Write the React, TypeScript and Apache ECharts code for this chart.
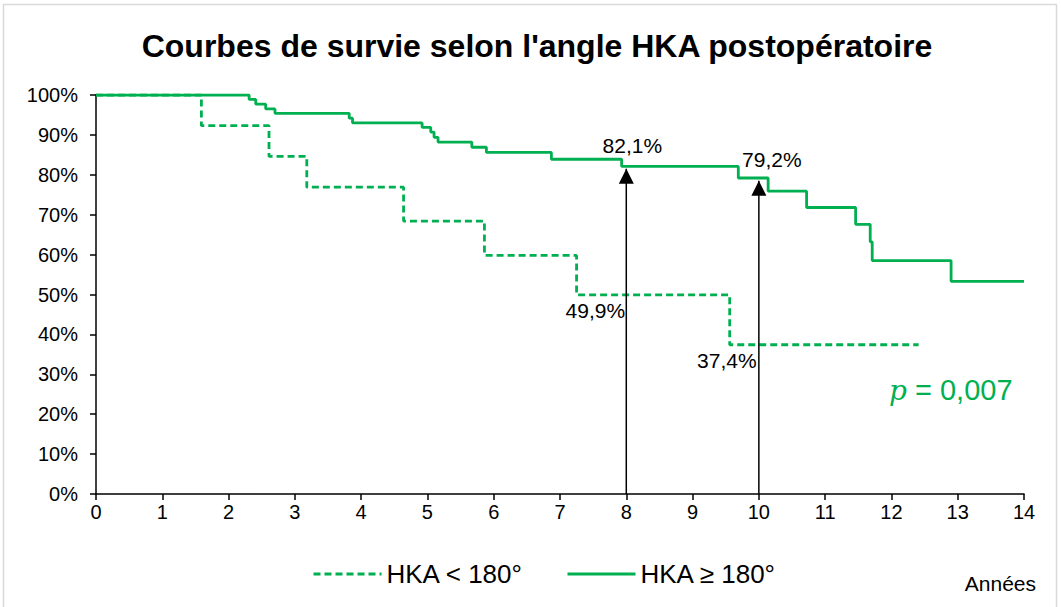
import React, { useEffect, useRef } from "react";
import * as echarts from "echarts";

// ---- data ----
const seriesNames = ["HKA < 180°", "HKA ≥ 180°"];
const lowYears = [0, 1.59, 2.61, 3.18, 4.64, 5.86, 7.25, 9.56, 12.41];
const lowSurv = [100, 92.3, 84.6, 76.9, 68.4, 59.8, 49.9, 37.4, 37.4];
const highYears = [0, 2.31, 2.41, 2.56, 2.7, 3.82, 3.87, 4.92, 5.05, 5.1, 5.16, 5.67, 5.89, 6.87, 7.93, 9.69, 10.14, 10.72, 11.46, 11.68, 11.71, 12.9, 14.0];
const highSurv = [100, 98.9, 97.7, 96.5, 95.4, 94.2, 93.0, 91.9, 90.7, 89.4, 88.2, 86.9, 85.6, 83.9, 82.1, 79.2, 75.9, 71.8, 67.6, 63.2, 58.5, 53.3, 53.3];
const arrowYears = [8, 10];
const arrowTops = [81.5, 78.5];
const labelYears = [8, 10, 8, 10];
const labelValues = [82.1, 79.2, 49.9, 37.4];
const xAxisTitle = "Années";
const chartTitle = "Courbes de survie selon l'angle HKA postopératoire";
const pValue = "0,007";

// ---- styling ----
const GREEN = "#00B050";
const FONT = "'Liberation Sans', Arial, sans-serif";
const labelOffsets = [
  [6, -21],
  [13, -18],
  [-31, 16],
  [-32, 16],
];

export default function App() {
  const ref = useRef<HTMLDivElement>(null);
  useEffect(() => {
    if (!ref.current) return;
    const chart = echarts.init(ref.current, undefined, { renderer: "svg" });
    const pair = (xs: number[], ys: number[]) => xs.map((x, i) => [x, ys[i]]);

    const arrowSeries: any[] = arrowYears.map((yr, i) => ({
      type: "line",
      data: [
        [yr, 0],
        [yr, arrowTops[i]],
      ],
      symbol: "none",
      lineStyle: { color: "#000", width: 1.5 },
      silent: true,
      z: 3,
    }));

    const legendBase = {
      top: 556,
      itemWidth: 68,
      itemHeight: 14,
      itemGap: 0,
      itemStyle: { opacity: 0 },
      lineStyle: { width: 3 },
      textStyle: { fontSize: 26, color: "#000", fontFamily: FONT },
    };

    const option: any = {
      animation: false,
      backgroundColor: "#fff",
      textStyle: { fontFamily: FONT },
      grid: { left: 96, right: 37, top: 95, bottom: 113 },
      xAxis: {
        type: "value",
        min: 0,
        max: 14,
        interval: 1,
        axisLine: { lineStyle: { color: "#000", width: 1.5 } },
        axisTick: { show: true, length: 6, lineStyle: { color: "#000", width: 1.5 } },
        axisLabel: { color: "#000", fontSize: 20, fontFamily: FONT, margin: 8 },
        splitLine: { show: false },
      },
      yAxis: {
        type: "value",
        min: 0,
        max: 100,
        interval: 10,
        axisLine: { show: true, lineStyle: { color: "#000", width: 1.5 } },
        axisTick: { show: true, length: 6, lineStyle: { color: "#000", width: 1.5 } },
        axisLabel: { color: "#000", fontSize: 20, fontFamily: FONT, margin: 18, formatter: "{value}%" },
        splitLine: { show: false },
      },
      legend: [
        { ...legendBase, data: [seriesNames[0]], left: 307 },
        { ...legendBase, data: [seriesNames[1]], left: 561 },
      ],
      series: [
        {
          name: seriesNames[0],
          type: "line",
          step: "end",
          data: pair(lowYears, lowSurv),
          symbol: "none",
          color: GREEN,
          lineStyle: { color: GREEN, width: 2.8, type: [7, 4] },
          z: 2,
        },
        {
          name: seriesNames[1],
          type: "line",
          step: "end",
          data: pair(highYears, highSurv),
          symbol: "none",
          color: GREEN,
          lineStyle: { color: GREEN, width: 2.8 },
          z: 2,
        },
        ...arrowSeries,
        {
          type: "scatter",
          data: pair(arrowYears, arrowTops),
          symbol: "triangle",
          symbolSize: [15, 15],
          symbolOffset: [0, 7.5],
          itemStyle: { color: "#000", opacity: 1 },
          silent: true,
          z: 4,
        },
        {
          type: "scatter",
          symbolSize: 0,
          silent: true,
          itemStyle: { opacity: 1 },
          z: 5,
          data: labelYears.map((yr, i) => ({
            value: [yr, labelValues[i]],
            label: {
              show: true,
              position: "inside",
              offset: labelOffsets[i],
              formatter: labelValues[i].toFixed(1).replace(".", ",") + "%",
              fontSize: 21,
              color: "#000",
              opacity: 1,
              textBorderWidth: 0,
              fontFamily: FONT,
            },
          })),
        },
      ],
      graphic: [
        {
          type: "rect",
          shape: { x: 3.5, y: 4.5, width: 1053, height: 640 },
          style: { fill: "none", stroke: "#d9d9d9", lineWidth: 1.5 },
          silent: true,
          z: -1,
        },
        {
          type: "text",
          x: 537,
          y: 46,
          style: {
            text: chartTitle,
            fontSize: 32,
            fontWeight: "bold",
            fontFamily: FONT,
            fill: "#000",
            align: "center",
            verticalAlign: "middle",
          },
        },
        {
          type: "text",
          x: 1036,
          y: 583,
          style: {
            text: xAxisTitle,
            fontSize: 21,
            fontFamily: FONT,
            fill: "#000",
            align: "right",
            verticalAlign: "middle",
          },
        },
        {
          type: "text",
          x: 889,
          y: 390,
          style: {
            text: "{p|p}{n| = " + pValue + "}",
            verticalAlign: "middle",
            rich: {
              p: { fontSize: 28, fontStyle: "italic", fontFamily: "'DejaVu Serif', 'Liberation Serif', serif", fill: GREEN, color: GREEN },
              n: { fontSize: 29, fontFamily: FONT, fill: GREEN, color: GREEN },
            },
            fill: GREEN,
          },
        },
      ],
    };
    chart.setOption(option);
    return () => chart.dispose();
  }, []);
  return (
    <div
      ref={ref}
      style={{ position: "fixed", left: 0, top: 0, width: 1061, height: 607 }}
    />
  );
}
